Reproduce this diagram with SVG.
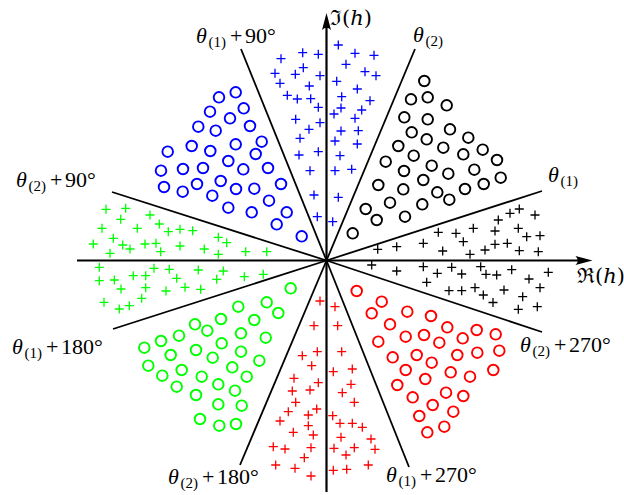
<svg xmlns="http://www.w3.org/2000/svg" xmlns:xlink="http://www.w3.org/1999/xlink" width="624" height="495" viewBox="0 0 624 495">
<style>
.ax{stroke:#000;stroke-width:2.2;fill:none}
.ray{stroke:#000;stroke-width:1.8;fill:none}
.c{fill:none;stroke-width:1.9}
.p{fill:none;stroke-width:1.3}
.blue{stroke:#0000ff}
.blk{stroke:#000}
.grn{stroke:#00ff00}
.red{stroke:#ff0000}
text{font-family:"Liberation Serif","DejaVu Serif",serif;font-size:22px;fill:#000}
.th{font-style:italic}
.sub{font-size:15px}
.frak{font-family:"DejaVu Serif","Liberation Serif",serif;font-size:21px}
</style>
<defs>
<path id="p" d="M-4.5 0H4.5M0 -4.5V4.5"/>
<circle id="o" r="5.3"/>
</defs>
<g id="connectors">
<line class="ray" x1="326.5" y1="260.5" x2="241" y2="49"/>
<line class="ray" x1="326.5" y1="260.5" x2="415" y2="49"/>
<line class="ray" x1="326.5" y1="260.5" x2="542" y2="191"/>
<line class="ray" x1="326.5" y1="260.5" x2="112" y2="192"/>
<line class="ray" x1="326.5" y1="260.5" x2="113" y2="329"/>
<line class="ray" x1="326.5" y1="260.5" x2="240" y2="465"/>
<line class="ray" x1="326.5" y1="260.5" x2="542" y2="332"/>
<line class="ray" x1="326.5" y1="260.5" x2="409" y2="467"/>
<line class="ax" x1="326.5" y1="492" x2="326.5" y2="25"/>
<line class="ax" x1="77" y1="260.5" x2="582" y2="260.5"/>
<path d="M326.5 13 L331 30 Q326.5 25.5 322 30 Z" fill="#000"/>
<path d="M592.5 260.5 L575.5 256 Q580 260.5 575.5 265 Z" fill="#000"/>
</g>
<g id="blue-circles" class="c blue">
<use href="#o" x="235.7" y="92.3"/><use href="#o" x="219" y="97.3"/><use href="#o" x="210" y="111.7"/><use href="#o" x="243.7" y="108.3"/><use href="#o" x="230" y="118.3"/><use href="#o" x="198.3" y="126.7"/><use href="#o" x="215.7" y="130.7"/><use href="#o" x="250" y="126"/><use href="#o" x="191.7" y="146"/><use href="#o" x="167.7" y="151.7"/><use href="#o" x="210.3" y="151"/><use href="#o" x="235.7" y="144.3"/><use href="#o" x="261.7" y="141.7"/><use href="#o" x="255.7" y="154"/><use href="#o" x="228.3" y="161"/><use href="#o" x="161" y="170.7"/><use href="#o" x="183" y="169"/><use href="#o" x="203" y="168"/><use href="#o" x="243.3" y="169.3"/><use href="#o" x="268" y="168"/><use href="#o" x="164" y="187"/><use href="#o" x="182.7" y="191.7"/><use href="#o" x="197" y="184"/><use href="#o" x="220.7" y="181"/><use href="#o" x="236" y="189"/><use href="#o" x="254.3" y="188.7"/><use href="#o" x="281" y="184"/><use href="#o" x="212.3" y="195.7"/><use href="#o" x="269" y="200.7"/><use href="#o" x="228.3" y="207.7"/><use href="#o" x="251.7" y="212.3"/><use href="#o" x="286.7" y="212.3"/><use href="#o" x="276.7" y="224.3"/><use href="#o" x="301.7" y="236.3"/>
</g>
<g id="blue-plus" class="p blue">
<use href="#p" x="338.3" y="45"/><use href="#p" x="302.7" y="52.7"/><use href="#p" x="318.3" y="54.3"/><use href="#p" x="281" y="58.7"/><use href="#p" x="355" y="53.3"/><use href="#p" x="374" y="55.3"/><use href="#p" x="346" y="64.3"/><use href="#p" x="303.3" y="67.7"/><use href="#p" x="275" y="73.3"/><use href="#p" x="295.3" y="74.3"/><use href="#p" x="320" y="75.7"/><use href="#p" x="365" y="71.7"/><use href="#p" x="376" y="75.7"/><use href="#p" x="280" y="83.3"/><use href="#p" x="336.7" y="81.3"/><use href="#p" x="309.3" y="86"/><use href="#p" x="357.3" y="89"/><use href="#p" x="287.3" y="95.3"/><use href="#p" x="297.3" y="99"/><use href="#p" x="310.7" y="98.7"/><use href="#p" x="341.7" y="96.7"/><use href="#p" x="318.3" y="107.3"/><use href="#p" x="370" y="100.7"/><use href="#p" x="341" y="108"/><use href="#p" x="361.7" y="110"/><use href="#p" x="334" y="114"/><use href="#p" x="295.7" y="119.3"/><use href="#p" x="320" y="122.7"/><use href="#p" x="355" y="118.3"/><use href="#p" x="309" y="129.3"/><use href="#p" x="341" y="131"/><use href="#p" x="358.3" y="130.7"/><use href="#p" x="300" y="138.3"/><use href="#p" x="335" y="141"/><use href="#p" x="357.3" y="144"/><use href="#p" x="299" y="155"/><use href="#p" x="318.3" y="151.7"/><use href="#p" x="340" y="155.7"/><use href="#p" x="310" y="170.7"/><use href="#p" x="335" y="170.7"/><use href="#p" x="351.7" y="169.3"/><use href="#p" x="314" y="195"/><use href="#p" x="338.3" y="197.3"/><use href="#p" x="317.3" y="216.7"/><use href="#p" x="332.7" y="221.7"/>
</g>
<g id="black-circles" class="c blk">
<use href="#o" x="424.3" y="81"/><use href="#o" x="411" y="99.3"/><use href="#o" x="427.7" y="97.3"/><use href="#o" x="446.7" y="105.3"/><use href="#o" x="404.3" y="117.3"/><use href="#o" x="427.7" y="119.3"/><use href="#o" x="450" y="129.3"/><use href="#o" x="411.7" y="132.3"/><use href="#o" x="426.7" y="139.3"/><use href="#o" x="468.3" y="137.7"/><use href="#o" x="398.3" y="146"/><use href="#o" x="443.3" y="147.7"/><use href="#o" x="482.7" y="149.7"/><use href="#o" x="413.7" y="155.7"/><use href="#o" x="463.3" y="154.3"/><use href="#o" x="385.7" y="161.7"/><use href="#o" x="497" y="160"/><use href="#o" x="431.7" y="165.7"/><use href="#o" x="404" y="171"/><use href="#o" x="448.3" y="173.7"/><use href="#o" x="474.3" y="169.7"/><use href="#o" x="500.7" y="177.7"/><use href="#o" x="423.3" y="180"/><use href="#o" x="378.3" y="185"/><use href="#o" x="483.7" y="184"/><use href="#o" x="403.3" y="189.3"/><use href="#o" x="437.3" y="192.3"/><use href="#o" x="465" y="189"/><use href="#o" x="449.3" y="199.7"/><use href="#o" x="390" y="202.7"/><use href="#o" x="422.3" y="204.3"/><use href="#o" x="365.7" y="209"/><use href="#o" x="376.7" y="220"/><use href="#o" x="405" y="216.7"/><use href="#o" x="352.7" y="233.3"/>
</g>
<g id="black-plus" class="p blk">
<use href="#p" x="519.3" y="209"/><use href="#p" x="510" y="213.3"/><use href="#p" x="535" y="215"/><use href="#p" x="498.3" y="220"/><use href="#p" x="473.3" y="228.3"/><use href="#p" x="495" y="231"/><use href="#p" x="438.3" y="232.3"/><use href="#p" x="456" y="233.3"/><use href="#p" x="518.3" y="228.3"/><use href="#p" x="526.7" y="236.7"/><use href="#p" x="540" y="235.7"/><use href="#p" x="463.3" y="241.7"/><use href="#p" x="495" y="244.3"/><use href="#p" x="507.3" y="243.3"/><use href="#p" x="485" y="250"/><use href="#p" x="519.3" y="250.7"/><use href="#p" x="538.3" y="251.7"/><use href="#p" x="377.7" y="249.3"/><use href="#p" x="396.7" y="246.7"/><use href="#p" x="423.3" y="243.3"/><use href="#p" x="442.7" y="251"/><use href="#p" x="470" y="254.3"/><use href="#p" x="371.7" y="265"/><use href="#p" x="396.7" y="271"/><use href="#p" x="423.3" y="266.7"/><use href="#p" x="437.3" y="273.3"/><use href="#p" x="451.7" y="267.3"/><use href="#p" x="461.7" y="274"/><use href="#p" x="426.7" y="282.3"/><use href="#p" x="480.7" y="266.7"/><use href="#p" x="486" y="274.3"/><use href="#p" x="496.7" y="275"/><use href="#p" x="511.7" y="269.7"/><use href="#p" x="529" y="279"/><use href="#p" x="548.3" y="272.3"/><use href="#p" x="449" y="290.7"/><use href="#p" x="461.7" y="290.7"/><use href="#p" x="475" y="287.7"/><use href="#p" x="483.3" y="295"/><use href="#p" x="504" y="290"/><use href="#p" x="522.7" y="296.7"/><use href="#p" x="540" y="287.7"/><use href="#p" x="493" y="302.5"/><use href="#p" x="518.3" y="309.3"/><use href="#p" x="537.3" y="306.7"/>
</g>
<g id="green-plus" class="p grn">
<use href="#p" x="106" y="209.3"/><use href="#p" x="125.7" y="208.3"/><use href="#p" x="120.7" y="219.3"/><use href="#p" x="150" y="215"/><use href="#p" x="102" y="228.3"/><use href="#p" x="137.3" y="228.3"/><use href="#p" x="159.3" y="224"/><use href="#p" x="168.3" y="231.7"/><use href="#p" x="180" y="229.3"/><use href="#p" x="192.7" y="230.7"/><use href="#p" x="113.3" y="238.3"/><use href="#p" x="93.3" y="244"/><use href="#p" x="122.7" y="245"/><use href="#p" x="130" y="249"/><use href="#p" x="145" y="244"/><use href="#p" x="156" y="243.3"/><use href="#p" x="160.7" y="251.7"/><use href="#p" x="110" y="253.3"/><use href="#p" x="180" y="246"/><use href="#p" x="204.3" y="249"/><use href="#p" x="218.3" y="237.3"/><use href="#p" x="226.7" y="242.7"/><use href="#p" x="218.3" y="254.3"/><use href="#p" x="245.7" y="251.7"/><use href="#p" x="266.7" y="251.7"/><use href="#p" x="99.3" y="267.3"/><use href="#p" x="154" y="268.3"/><use href="#p" x="169.3" y="269.3"/><use href="#p" x="198.3" y="270"/><use href="#p" x="223.3" y="271"/><use href="#p" x="133.3" y="275.7"/><use href="#p" x="145.7" y="275.7"/><use href="#p" x="99.3" y="280.7"/><use href="#p" x="114.3" y="280"/><use href="#p" x="176.7" y="278.3"/><use href="#p" x="216.7" y="279.3"/><use href="#p" x="244.3" y="276.7"/><use href="#p" x="263.3" y="274.3"/><use href="#p" x="121" y="289"/><use href="#p" x="145.7" y="287.7"/><use href="#p" x="166" y="291"/><use href="#p" x="185" y="287.3"/><use href="#p" x="200.7" y="289.3"/><use href="#p" x="141.7" y="298.3"/><use href="#p" x="104" y="302.3"/><use href="#p" x="129.3" y="305.7"/><use href="#p" x="119.3" y="309"/>
</g>
<g id="green-circles" class="c grn">
<use href="#o" x="290.7" y="288.3"/><use href="#o" x="266.7" y="302.3"/><use href="#o" x="278.3" y="313"/><use href="#o" x="238.3" y="306.7"/><use href="#o" x="221" y="319"/><use href="#o" x="254.3" y="320"/><use href="#o" x="195" y="324.3"/><use href="#o" x="207.3" y="330.7"/><use href="#o" x="179" y="335.7"/><use href="#o" x="161" y="341"/><use href="#o" x="144.3" y="347.7"/><use href="#o" x="241" y="333.3"/><use href="#o" x="265.7" y="337.7"/><use href="#o" x="221.7" y="343.3"/><use href="#o" x="196" y="350"/><use href="#o" x="170.7" y="355"/><use href="#o" x="241" y="351.7"/><use href="#o" x="212.7" y="357.7"/><use href="#o" x="259.3" y="360.7"/><use href="#o" x="148.3" y="365.7"/><use href="#o" x="181.7" y="370"/><use href="#o" x="232.3" y="367.3"/><use href="#o" x="162.3" y="375.7"/><use href="#o" x="201.7" y="376.7"/><use href="#o" x="246.7" y="376.7"/><use href="#o" x="218.3" y="384.3"/><use href="#o" x="176.7" y="386.7"/><use href="#o" x="235" y="390.7"/><use href="#o" x="196" y="395"/><use href="#o" x="218.3" y="404.3"/><use href="#o" x="241.7" y="405.7"/><use href="#o" x="200" y="419"/><use href="#o" x="219.3" y="425.7"/><use href="#o" x="236" y="424"/>
</g>
<g id="red-plus" class="p red">
<use href="#p" x="320" y="301"/><use href="#p" x="335" y="306.7"/><use href="#p" x="314" y="325.7"/><use href="#p" x="337.7" y="325.7"/><use href="#p" x="302.3" y="355.7"/><use href="#p" x="317.3" y="351.7"/><use href="#p" x="341.7" y="351.7"/><use href="#p" x="311.7" y="365.7"/><use href="#p" x="333.3" y="371.7"/><use href="#p" x="352.3" y="369"/><use href="#p" x="294" y="378.3"/><use href="#p" x="318.3" y="382.7"/><use href="#p" x="292.3" y="391"/><use href="#p" x="310" y="390"/><use href="#p" x="351" y="384.3"/><use href="#p" x="342.3" y="392.7"/><use href="#p" x="295.7" y="402.3"/><use href="#p" x="316.7" y="409"/><use href="#p" x="288.3" y="411.7"/><use href="#p" x="308.3" y="415"/><use href="#p" x="354.3" y="402.3"/><use href="#p" x="280" y="421"/><use href="#p" x="308.3" y="425.7"/><use href="#p" x="332.7" y="415.7"/><use href="#p" x="340" y="423.3"/><use href="#p" x="352.3" y="423.3"/><use href="#p" x="362.3" y="427.3"/><use href="#p" x="293.3" y="432.3"/><use href="#p" x="313.3" y="435"/><use href="#p" x="341" y="437.3"/><use href="#p" x="371" y="439"/><use href="#p" x="273.3" y="446.7"/><use href="#p" x="285" y="449"/><use href="#p" x="311" y="447.7"/><use href="#p" x="334" y="448.3"/><use href="#p" x="354.3" y="447.7"/><use href="#p" x="375" y="449.3"/><use href="#p" x="304.3" y="457.7"/><use href="#p" x="346" y="455"/><use href="#p" x="275.7" y="465"/><use href="#p" x="295" y="468.3"/><use href="#p" x="368.3" y="465"/><use href="#p" x="311" y="476"/><use href="#p" x="333.3" y="470.3"/><use href="#p" x="346.7" y="469.3"/>
</g>
<g id="red-circles" class="c red">
<use href="#o" x="356.7" y="291"/><use href="#o" x="381.7" y="301.7"/><use href="#o" x="371.7" y="313.3"/><use href="#o" x="407.3" y="311.7"/><use href="#o" x="431" y="316"/><use href="#o" x="390" y="324.3"/><use href="#o" x="447.3" y="327.3"/><use href="#o" x="476.7" y="330"/><use href="#o" x="495.7" y="334.3"/><use href="#o" x="378.3" y="341.7"/><use href="#o" x="405.7" y="336.7"/><use href="#o" x="424" y="335"/><use href="#o" x="439.3" y="342.7"/><use href="#o" x="462.7" y="338.3"/><use href="#o" x="499.3" y="350.7"/><use href="#o" x="477.3" y="352.7"/><use href="#o" x="457.3" y="355"/><use href="#o" x="416.7" y="355"/><use href="#o" x="392.7" y="357.3"/><use href="#o" x="431.7" y="362.7"/><use href="#o" x="405.7" y="370"/><use href="#o" x="450.7" y="372.3"/><use href="#o" x="470" y="376.7"/><use href="#o" x="493.3" y="370"/><use href="#o" x="425.3" y="379"/><use href="#o" x="397.3" y="385"/><use href="#o" x="446" y="392.7"/><use href="#o" x="463.3" y="396"/><use href="#o" x="412.7" y="397.3"/><use href="#o" x="432.7" y="405"/><use href="#o" x="453.3" y="411.7"/><use href="#o" x="419.3" y="416"/><use href="#o" x="444.3" y="426.7"/><use href="#o" x="427.3" y="432.3"/>
</g>
<g id="labels">
<text x="330" y="25" class="frak">ℑ(<tspan class="th">h</tspan>)</text>
<text x="577" y="283" class="frak">ℜ(<tspan class="th">h</tspan>)</text>
<text y="43"><tspan x="196" class="th">θ</tspan><tspan x="208.5" dy="4" class="sub">(1)</tspan><tspan x="230" dy="-4">+</tspan><tspan x="245">90°</tspan></text>
<text y="41.5"><tspan x="413" class="th">θ</tspan><tspan x="425.5" dy="4" class="sub">(2)</tspan></text>
<text y="182"><tspan x="548" class="th">θ</tspan><tspan x="560.5" dy="4" class="sub">(1)</tspan></text>
<text y="187"><tspan x="16" class="th">θ</tspan><tspan x="28.5" dy="4" class="sub">(2)</tspan><tspan x="50" dy="-4">+</tspan><tspan x="65">90°</tspan></text>
<text y="354"><tspan x="12" class="th">θ</tspan><tspan x="24.5" dy="4" class="sub">(1)</tspan><tspan x="46" dy="-4">+</tspan><tspan x="61">180°</tspan></text>
<text y="484"><tspan x="168" class="th">θ</tspan><tspan x="180.5" dy="4" class="sub">(2)</tspan><tspan x="202" dy="-4">+</tspan><tspan x="217">180°</tspan></text>
<text y="482"><tspan x="386" class="th">θ</tspan><tspan x="398.5" dy="4" class="sub">(1)</tspan><tspan x="420" dy="-4">+</tspan><tspan x="435">270°</tspan></text>
<text y="352"><tspan x="520" class="th">θ</tspan><tspan x="532.5" dy="4" class="sub">(2)</tspan><tspan x="554" dy="-4">+</tspan><tspan x="569">270°</tspan></text>
</g>
</svg>
